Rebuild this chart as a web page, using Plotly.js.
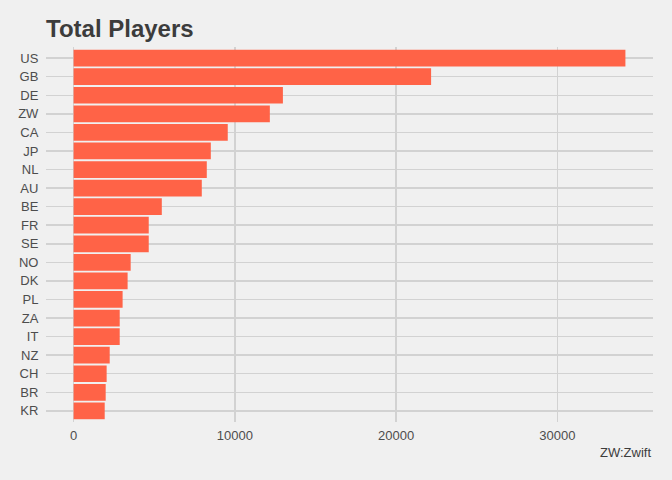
<!DOCTYPE html>
<html>
<head>
<meta charset="utf-8">
<script src="https://cdn.plot.ly/plotly-3.0.1.min.js"></script>
<style>
  body { margin: 0; background: #F0F0F0; }
  #chart { width: 672px; height: 480px; }
</style>
</head>
<body>
<div id="chart"></div>
<script>
// countries, top to bottom
var countries = ["US", "GB", "DE", "ZW", "CA", "JP", "NL", "AU", "BE", "FR",
                 "SE", "NO", "DK", "PL", "ZA", "IT", "NZ", "CH", "BR", "KR"];
var players = [34220, 22170, 12980, 12170, 9560, 8510, 8260, 7950, 5470, 4660,
               4660, 3540, 3350, 3040, 2860, 2860, 2240, 2050, 1990, 1930];
var xTicks = [0, 10000, 20000, 30000];

var Chart = document.getElementById("chart");

var trace = {
  x: players,
  y: countries,
  type: 'bar',
  orientation: 'h',
  marker: { color: '#FF6347' },
  hoverinfo: 'x+y'
};

var layout = {
  width: 672,
  height: 480,
  paper_bgcolor: '#F0F0F0',
  plot_bgcolor: '#F0F0F0',
  font: { family: 'Liberation Sans, Arial, sans-serif', color: '#4D4D4D', size: 13 },
  margin: { l: 46, r: 19, t: 47, b: 58 },
  bargap: 0.1,
  showlegend: false,
  title: {
    text: '<b>Total Players</b>',
    font: { size: 24, color: '#3C3C3C' },
    x: 46 / 672, xanchor: 'left', xref: 'container',
    y: 1 - 37 / 480, yanchor: 'bottom', yref: 'container',
    pad: { b: 0 }
  },
  xaxis: {
    range: [-1711, 35931],
    tickvals: xTicks,
    ticktext: xTicks.map(String),
    showgrid: true,
    gridcolor: '#D2D2D2',
    gridwidth: 1.5,
    zeroline: false,
    showline: false,
    ticks: 'outside',
    ticklen: 1,
    tickcolor: 'rgba(0,0,0,0)',
    tickfont: { size: 13, color: '#4D4D4D' },
    fixedrange: true
  },
  yaxis: {
    type: 'category',
    categoryorder: 'array',
    categoryarray: countries,
    range: [19.6, -0.6],
    showgrid: true,
    gridcolor: '#D2D2D2',
    gridwidth: 1.5,
    zeroline: false,
    showline: false,
    ticks: 'outside',
    ticklen: 4,
    tickcolor: 'rgba(0,0,0,0)',
    tickfont: { size: 13, color: '#4D4D4D' },
    fixedrange: true
  },
  annotations: [{
    text: 'ZW:Zwift',
    xref: 'paper', yref: 'paper',
    x: 1, y: -21 / 375,
    xanchor: 'right', yanchor: 'top',
    showarrow: false,
    font: { size: 13, color: '#3C3C3C' }
  }]
};

Plotly.newPlot(Chart, [trace], layout, { displayModeBar: false, staticPlot: true });
</script>
</body>
</html>
